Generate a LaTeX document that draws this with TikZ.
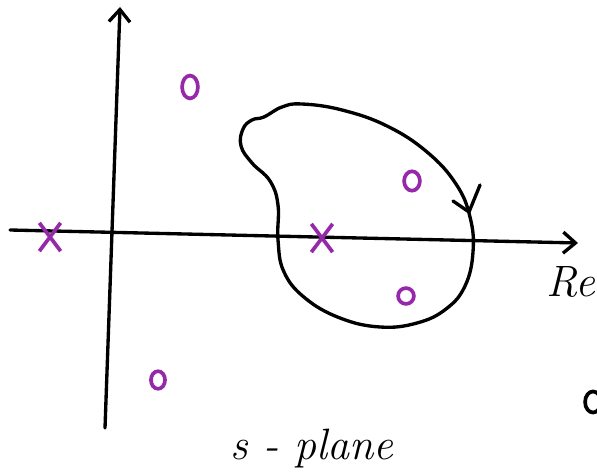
\documentclass[tikz,border=0pt]{standalone}
\usetikzlibrary{arrows.meta,shapes.geometric,shapes.misc}
\definecolor{polepurple}{RGB}{150,40,170}
\tikzset{
  axis/.style={line width=1.9pt, line cap=round, -{Straight Barb[length=7pt,width=12pt]}},
  pole/.style={cross out, draw=polepurple, line width=2.1pt, minimum width=10pt, minimum height=14pt, inner sep=0pt},
  zero/.style={ellipse, draw=polepurple, line width=2.1pt, inner sep=0pt},
  label/.style={font=\fontsize{25}{27}\selectfont\itshape},
}
\begin{document}
\begin{tikzpicture}[x=0.02cm, y=-0.02cm]
    \useasboundingbox (0,0) rectangle (597,472);

    % Define the end points of the axes
    \coordinate (ReStart) at (10,230);
    \coordinate (ReEnd) at (578,243);
    \coordinate (ImStart) at (105,428);
    \coordinate (ImEnd) at (120,7);

    % Draw the axes
    \draw[axis] (ReStart) -- (ReEnd);
    \draw[axis] (ImStart) -- (ImEnd);

    % Poles
    \node[pole] (p1) at (50,237) {};
    \node[pole] (p2) at (322,238) {};

    % Zeros
    \node[zero, minimum width=9pt, minimum height=13pt] (z1) at (190,87) {};
    \node[zero, minimum width=9pt, minimum height=11pt] (z2) at (412,181) {};
    \node[zero, minimum width=9pt, minimum height=9pt] (z3) at (406,296) {};
    \node[zero, minimum width=8pt, minimum height=10pt] (z4) at (158,380) {};
    \node[zero, draw=black, minimum width=9pt, minimum height=12pt] (z5) at (593,402) {};

    % Closed contour
    \draw[line width=1.9pt, line cap=round, line join=round]
      plot[smooth cycle, tension=0.7] coordinates {
        (264,117) (282,107) (302,104) (342,110) (387,126) (427,152)
        (456,184) (470,217) (473,252) (465,286) (446,309) (417,323)
        (380,327) (340,318) (305,298) (284,272) (278,240) (278,205)
        (270,181) (252,163) (241,146) (243,129) (252,120)};

    % Direction arrow on the contour
    \coordinate (ArrowTip) at (469,212);
    \coordinate (BarbL) at (453,201);
    \coordinate (BarbR) at (480,185);
    \draw[line width=1.9pt, line cap=round, line join=round] (BarbL) -- (ArrowTip) -- (BarbR);

    % Labels
    \node[label] (relabel) at (571,282) {Re};
    \node[label] (plane) at (312,449) {s - plane};
\end{tikzpicture}
\end{document}
